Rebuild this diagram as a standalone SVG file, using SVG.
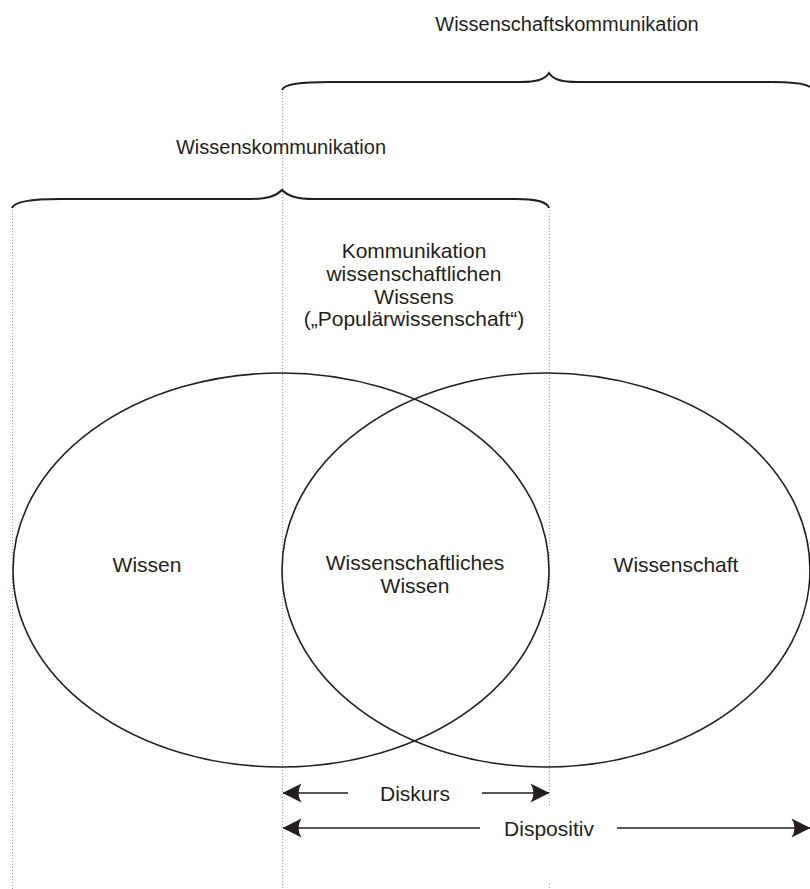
<svg xmlns="http://www.w3.org/2000/svg" width="810" height="889" viewBox="0 0 810 889">
<style>
text{font-family:"Liberation Sans",Arial,sans-serif;font-size:21px;fill:#231f20;text-anchor:middle}
.t20{font-size:20px}
.dot{stroke:#999;stroke-width:1;stroke-dasharray:1 2;fill:none}
.br{stroke:#231f20;stroke-width:2;fill:none}
.el{stroke:#231f20;stroke-width:1.6;fill:none}
.ar{stroke:#231f20;stroke-width:1.6;fill:none}
</style>
<defs>
<marker id="ah" viewBox="0 0 20 20" refX="19.5" refY="10" markerWidth="20" markerHeight="20" markerUnits="userSpaceOnUse" orient="auto-start-reverse">
<path d="M20 10 L1 0.5 Q7 10 1 19.5 Z" fill="#231f20"/>
</marker>
</defs>
<g id="guides">
<line class="dot" x1="12.5" y1="207" x2="12.5" y2="889"/>
<line class="dot" x1="282.5" y1="89" x2="282.5" y2="889"/>
<line class="dot" x1="549.5" y1="207" x2="549.5" y2="806"/>
<line class="dot" x1="549.5" y1="884" x2="549.5" y2="889"/>
</g>
<g id="brace-wk">
<path class="br" d="M282 90 C284 84 300 82 330 82 L520 82 C538 82 545 79 549 73 C553 79 560 82 578 82 L770 82 C795 82 806 84 810 87"/>
<text class="t20" x="567" y="31">Wissenschaftskommunikation</text>
</g>
<g id="brace-wiko">
<path class="br" d="M12 208 C14 202 30 199 60 199 L250 199 C268 199 276 196 282 190 C288 196 296 199 314 199 L515 199 C538 199 547 202 549 208"/>
<text class="t20" x="281" y="154">Wissenskommunikation</text>
</g>
<g id="node-wissen">
<ellipse class="el" cx="281" cy="570" rx="268" ry="197"/>
<text x="147" y="572">Wissen</text>
</g>
<g id="node-wissenschaft">
<ellipse class="el" cx="546" cy="570" rx="264" ry="197"/>
<text x="676" y="572">Wissenschaft</text>
</g>
<g id="node-intersection">
<text x="415" y="570">Wissenschaftliches</text>
<text x="415" y="593">Wissen</text>
</g>
<g id="node-popular">
<text x="414" y="258">Kommunikation</text>
<text x="414" y="281">wissenschaftlichen</text>
<text x="414" y="304">Wissens</text>
<text x="414" y="326">(„Populärwissenschaft“)</text>
</g>
<g id="connectors">
<line class="ar" x1="348" y1="793" x2="283" y2="793" marker-end="url(#ah)"/>
<line class="ar" x1="482" y1="793" x2="549" y2="793" marker-end="url(#ah)"/>
<line class="ar" x1="480" y1="828" x2="283" y2="828" marker-end="url(#ah)"/>
<line class="ar" x1="617" y1="828" x2="810" y2="828" marker-end="url(#ah)"/>
</g>
<g id="labels">
<text x="415" y="801">Diskurs</text>
<text x="549" y="836">Dispositiv</text>
</g>
</svg>
